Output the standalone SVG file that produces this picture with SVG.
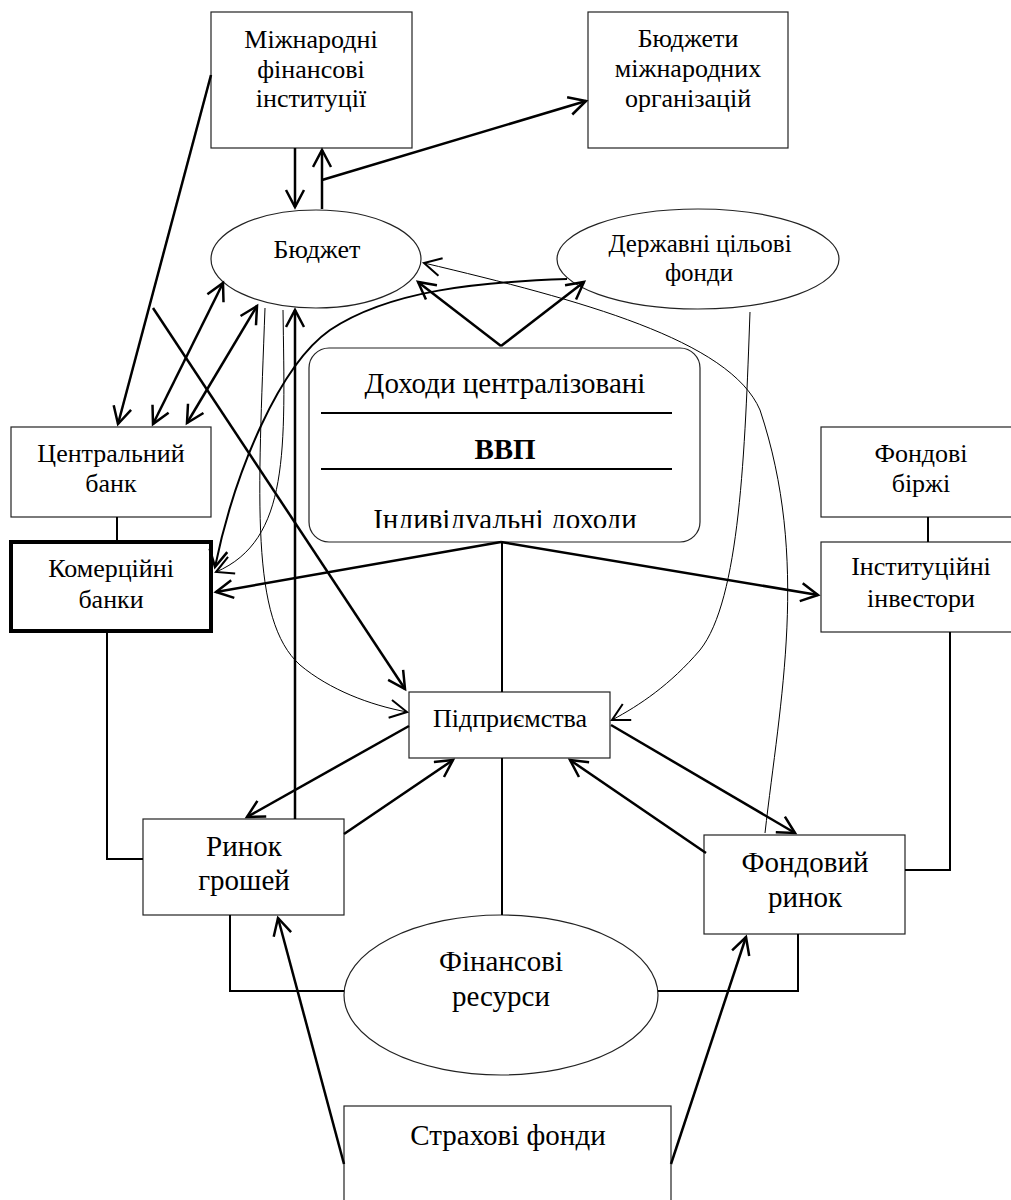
<svg xmlns="http://www.w3.org/2000/svg" width="1011" height="1200" viewBox="0 0 1011 1200">
<style>
.box{fill:#fff;stroke:#222;stroke-width:1.2}
.t{font-family:'Liberation Serif','Times New Roman',serif;font-size:26px;fill:#000;text-anchor:middle}
.tl{font-size:29px}
.b{font-weight:bold}
.ln{fill:none;stroke:#000;stroke-width:2}
.c{fill:none;stroke:#000;stroke-width:2.5;marker-end:url(#ah)}
.cc{fill:none;stroke:#000;stroke-width:2.5;marker-start:url(#ah);marker-end:url(#ah)}
.thin{fill:none;stroke:#000;stroke-width:1;marker-end:url(#ah2)}
</style>
<defs>
<marker id="ah" markerUnits="userSpaceOnUse" markerWidth="22" markerHeight="22" viewBox="-1 -1 22 22" refX="18" refY="9.5" orient="auto-start-reverse"><path d="M1,0.5 L18,9.5 L1,18.5" fill="none" stroke="#000" stroke-width="2.5"/></marker>
<marker id="ah2" markerUnits="userSpaceOnUse" markerWidth="22" markerHeight="22" viewBox="-1 -1 22 22" refX="18" refY="9.5" orient="auto"><path d="M1,0.5 L18,9.5 L1,18.5" fill="none" stroke="#000" stroke-width="2"/></marker>
<clipPath id="clipInd"><rect x="309" y="480" width="391" height="48"/></clipPath>
</defs>
<rect x="0" y="0" width="1011" height="1200" fill="#fff"/>

<g id="n-mfi"><rect class="box" x="211" y="12" width="201" height="136"/>
<text class="t" x="311" y="48">Міжнародні</text><text class="t" x="311" y="78">фінансові</text><text class="t" x="311" y="107">інституції</text></g>
<g id="n-bmo"><rect class="box" x="588" y="12" width="200" height="136"/>
<text class="t" x="688" y="47">Бюджети</text><text class="t" x="688" y="77">міжнародних</text><text class="t" x="688" y="107">організацій</text></g>
<g id="n-budget"><ellipse class="box" cx="316" cy="259" rx="105" ry="49"/>
<text class="t" x="317" y="258">Бюджет</text></g>
<g id="n-dcf"><ellipse class="box" cx="698" cy="259" rx="141" ry="50"/>
<text class="t" x="700" y="252" style="font-size:25px">Державні цільові</text><text class="t" x="699" y="281" style="font-size:25px">фонди</text></g>
<g id="n-income"><rect class="box" x="309" y="348" width="391" height="194" rx="20"/>
<line x1="321" y1="413" x2="672" y2="413" stroke="#000" stroke-width="2"/>
<line x1="321" y1="469" x2="672" y2="469" stroke="#000" stroke-width="2"/>
<text class="t tl" x="505" y="393">Доходи централізовані</text>
<text class="t tl b" x="505" y="459">ВВП</text>
<text class="t tl" x="505" y="529" clip-path="url(#clipInd)">Індивідуальні доходи</text></g>
<g id="n-cb"><rect class="box" x="11" y="427" width="200" height="90"/>
<text class="t" x="111" y="462">Центральний</text><text class="t" x="111" y="492">банк</text></g>
<g id="n-kb"><rect x="11" y="542" width="200" height="89" fill="#fff" stroke="#000" stroke-width="4"/>
<text class="t" x="111" y="577">Комерційні</text><text class="t" x="111" y="608">банки</text></g>
<g id="n-fb"><rect class="box" x="821" y="427" width="201" height="90"/>
<text class="t" x="921" y="462">Фондові</text><text class="t" x="921" y="492">біржі</text></g>
<g id="n-ii"><rect class="box" x="821" y="542" width="201" height="90"/>
<text class="t" x="921" y="575">Інституційні</text><text class="t" x="921" y="607">інвестори</text></g>
<g id="n-ent"><rect class="box" x="409" y="692" width="201" height="66"/>
<text class="t" x="510" y="727">Підприємства</text></g>
<g id="n-mm"><rect class="box" x="143" y="819" width="201" height="96"/>
<text class="t tl" x="244" y="856">Ринок</text><text class="t tl" x="244" y="890">грошей</text></g>
<g id="n-sm"><rect class="box" x="704" y="835" width="201" height="99"/>
<text class="t tl" x="805" y="872">Фондовий</text><text class="t tl" x="805" y="907">ринок</text></g>
<g id="n-fr"><ellipse class="box" cx="501" cy="995" rx="157" ry="80"/>
<text class="t tl" x="501" y="971">Фінансові</text><text class="t tl" x="501" y="1006">ресурси</text></g>
<g id="n-ins"><rect class="box" x="344" y="1106" width="327" height="110"/>
<text class="t tl" x="508" y="1145">Страхові фонди</text></g>

<g id="connectors">
<path class="ln" d="M117 517 V542"/>
<path class="ln" d="M107 631 V859 H143"/>
<path class="ln" d="M928 517 V542"/>
<path class="ln" d="M950 632 V870 H905"/>
<path class="ln" d="M502 542 V692"/>
<path class="ln" d="M502 758 V915"/>
<path class="ln" d="M230 915 V991 H344"/>
<path class="ln" d="M658 991 H798 V934"/>

<path class="c" d="M211 75 L118 424"/>
<path class="c" d="M295 148 V207"/>
<path class="c" d="M322 209 V150"/>
<path class="c" d="M322 180 L586 101"/>
<path class="cc" d="M223 283 L153 424"/>
<path class="cc" d="M257 306 L187 423"/>
<path class="c" d="M153 308 L405 689"/>
<path class="c" d="M295 819 V310"/>
<path class="c" d="M501 346 L418 282"/>
<path class="c" d="M501 346 L584 282"/>
<path class="c" d="M501 542 L216 592"/>
<path class="c" d="M501 542 L818 595"/>
<path class="c" d="M409 726 L247 817"/>
<path class="c" d="M344 834 L453 760"/>
<path class="c" d="M611 725 L795 833"/>
<path class="c" d="M706 853 L570 760"/>
<path class="c" d="M344 1164 L278 918"/>
<path class="c" d="M671 1164 L746 937"/>
<path class="c" style="stroke-width:2" d="M567 279 C480 282 390 290 330 330 C280 365 235 470 215 567"/>

<path class="thin" d="M265 308 C258 500 250 620 300 665 C330 690 370 705 407 712"/>
<path class="thin" d="M283 310 C285 450 290 540 216 572"/>
<path class="thin" d="M750 312 C745 450 740 600 700 650 C670 685 640 705 612 720"/>
<path class="thin" d="M765 833 C780 700 810 560 760 410 C730 340 580 300 424 263"/>
</g>
</svg>
